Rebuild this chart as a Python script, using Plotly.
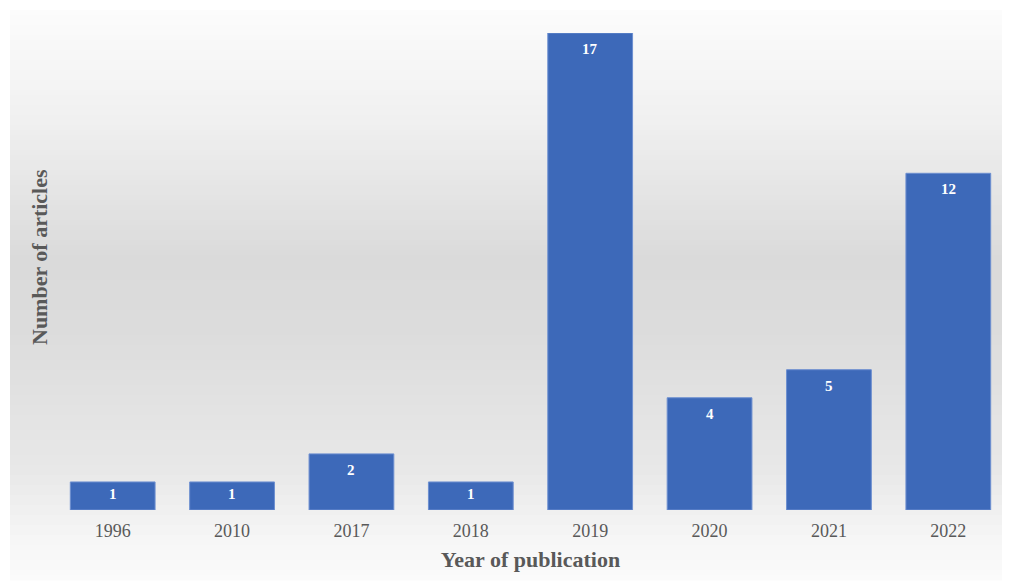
import plotly.graph_objects as go

years = ["1996", "2010", "2017", "2018", "2019", "2020", "2021", "2022"]
articles = [1, 1, 2, 1, 17, 4, 5, 12]

# page has an 8px body margin; figure coordinates are page coordinates minus 8
OFF = 8
W, H = 1002, 579
ML, MR, MT, MB = 45, 2, 25, 77
PW, PH = W - ML - MR, H - MT - MB

def px_x(px):
    return (px - OFF - ML) / PW

def px_y(py):
    return (H - MB - (py - OFF)) / PH

def bg_color(py):
    stops = [(10, 252), (120, 240), (260, 218), (330, 220), (470, 232), (540, 246), (580, 251)]
    for (y0, c0), (y1, c1) in zip(stops[:-1], stops[1:]):
        if y0 <= py <= y1:
            t = (py - y0) / (y1 - y0)
            v = round(c0 + (c1 - c0) * t)
            return f"rgb({v},{v},{v})"
    return "rgb(250,250,250)"

shapes = []
step = 5
for y in range(10, 580, step):
    shapes.append(dict(
        type="rect", xref="paper", yref="paper", layer="below",
        x0=px_x(10), x1=px_x(1005), y0=px_y(y + step + 0.5), y1=px_y(y),
        fillcolor=bg_color(y + step / 2), line=dict(width=0),
    ))

fig = go.Figure()
fig.add_trace(go.Bar(
    x=years, y=articles,
    marker=dict(color="#3d69b9", line=dict(color="#6d8fd0", width=1)),
    hoverinfo="x+y",
))

# data labels: category index positions on the x axis, value on the y axis
annotations = [
    dict(x=i, y=v, xref="x", yref="y", text=f"<b>{v}</b>", showarrow=False,
         yanchor="middle", yshift=-12 if v < 2 else -16,
         font=dict(family="Liberation Serif", size=15, color="white"))
    for i, v in enumerate(articles)
]
annotations.append(dict(
    x=px_x(40), y=px_y(257), xref="paper", yref="paper", textangle=-90,
    text="<b>Number of articles</b>", showarrow=False,
    xanchor="center", yanchor="middle",
    font=dict(family="Liberation Serif", size=22, color="#595959"),
))

fig.update_layout(
    width=W, height=H,
    margin=dict(l=ML, r=MR, t=MT, b=MB),
    paper_bgcolor="white", plot_bgcolor="rgba(0,0,0,0)",
    bargap=0.29, showlegend=False,
    shapes=shapes, annotations=annotations,
    font=dict(family="Liberation Serif", color="#595959"),
    xaxis=dict(type="category", categoryorder="array", categoryarray=years,
               range=[-0.5, len(years) - 0.5],
               showgrid=False, showline=False, zeroline=False,
               ticks="outside", ticklen=4, tickcolor="rgba(0,0,0,0)",
               tickfont=dict(size=18, color="#595959"),
               title=dict(text="Year of publication", standoff=12,
                          font=dict(size=22, color="#595959", weight="bold"))),
    yaxis=dict(range=[0, 17], showgrid=False, showline=False, zeroline=False,
               showticklabels=False, ticks=""),
)

fig.write_html("out.html")
